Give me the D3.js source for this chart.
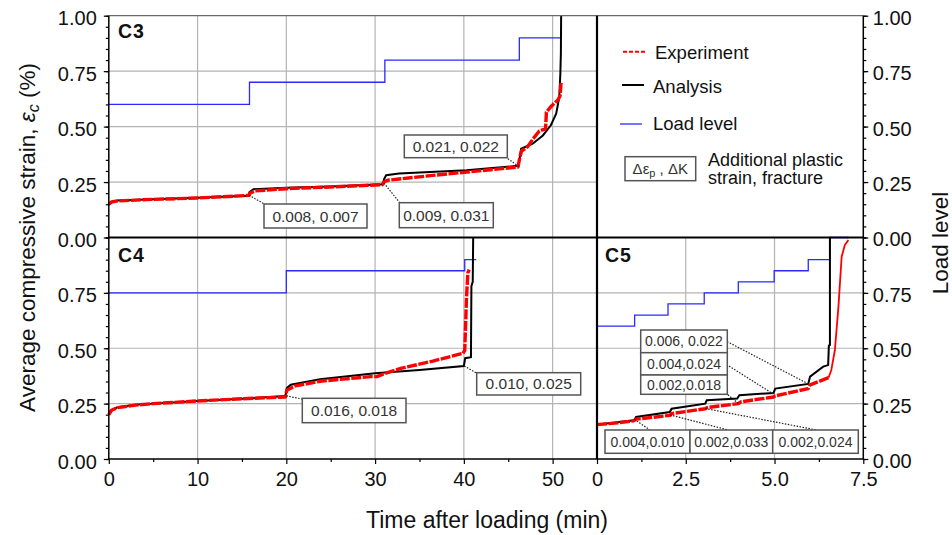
<!DOCTYPE html>
<html><head><meta charset="utf-8">
<script src="https://cdn.jsdelivr.net/npm/d3@7/dist/d3.min.js"></script>
<style>
body{margin:0;background:#fff}
svg{display:block}
text{font-family:"Liberation Sans",Arial,sans-serif}
</style>
</head><body>
<svg id="chart" width="952" height="535"></svg>
<script>
// ---------------- DATA ----------------
// C3 (top panel)
const c3ExpTime   = [0,0.3,1,5,10,15.8,15.9,16.5,20,25,30.8,31.0,31.4,36.5,40.3,46.1,46.3,46.5,47.2,47.8,48.5,49.2,49.3,49.8,50.6,50.85,50.95];
const c3ExpStrain = [0.15,0.16,0.165,0.172,0.178,0.19,0.2,0.21,0.22,0.228,0.238,0.25,0.258,0.28,0.295,0.318,0.36,0.39,0.41,0.445,0.48,0.49,0.565,0.59,0.62,0.64,0.70];
const c3AnaTime   = [0,0.3,1,5,10,15.75,15.85,16.3,20,25,30.9,31.0,31.25,32.7,40.3,46.15,46.3,46.45,47.75,48.9,49.8,50.4,50.75,50.87,50.93,50.96];
const c3AnaStrain = [0.148,0.16,0.167,0.173,0.179,0.188,0.205,0.218,0.224,0.23,0.24,0.262,0.281,0.288,0.303,0.323,0.36,0.40,0.423,0.46,0.506,0.558,0.633,0.738,0.83,1.0];
const c3LoadTime  = [0,15.85,31.1,46.25,50.95];
const c3LoadLevel = [0.6,0.7,0.8,0.9,0.9];
const c3NoteText  = ["0.008, 0.007","0.009, 0.031","0.021, 0.022"];
const c3NoteTime  = [15.8,31.0,46.2];
const c3NoteStrain= [0.19,0.245,0.32];

// C4 (bottom-left panel)
const c4ExpTime   = [0,0.3,1,3,5,10,15,19.9,20.05,21,24,29.5,30.2,31,33,36.5,39.9,40.1,40.3,40.45,40.6];
const c4ExpStrain = [0.2,0.22,0.232,0.243,0.25,0.262,0.272,0.28,0.31,0.33,0.352,0.372,0.372,0.385,0.41,0.442,0.477,0.49,0.73,0.84,0.855];
const c4AnaTime   = [0,0.3,1,3,5,10,15,19.9,20.05,20.5,23.8,30,35,40,40.15,40.8,40.85,41.0,41.05];
const c4AnaStrain = [0.2,0.22,0.234,0.245,0.25,0.262,0.272,0.284,0.32,0.335,0.36,0.387,0.402,0.42,0.455,0.46,0.78,0.8,1.0];
const c4LoadTime  = [0,20,40.1,41.4];
const c4LoadLevel = [0.75,0.85,0.9,0.9];
const c4NoteText  = ["0.016, 0.018","0.010, 0.025"];
const c4NoteTime  = [20.0,40.05];
const c4NoteStrain= [0.285,0.42];

// C5 (bottom-right panel)
const c5ExpTime   = [0,0.5,1.03,1.1,2.06,2.1,3.05,3.1,3.98,4.05,4.97,5.02,5.95,6.0,6.52];
const c5ExpStrain = [0.155,0.162,0.172,0.18,0.197,0.205,0.227,0.232,0.25,0.258,0.28,0.285,0.318,0.335,0.367];
const c5ExpTailTime   = [6.52,6.6,6.7,6.8,6.89,6.98,7.08];
const c5ExpTailStrain = [0.367,0.402,0.492,0.688,0.913,0.966,0.989];
const c5AnaTime   = [0,0.5,1.05,1.1,2.05,2.1,3.05,3.09,3.95,4.01,4.97,5.02,5.95,6.0,6.37,6.51,6.53,6.56,6.56];
const c5AnaStrain = [0.155,0.165,0.175,0.19,0.212,0.227,0.25,0.265,0.273,0.288,0.298,0.318,0.339,0.372,0.417,0.424,0.512,0.515,1.0];
const c5LoadTime  = [0,1.06,2.0,3.02,3.98,4.99,5.95,6.56,7.1];
const c5LoadLevel = [0.6,0.65,0.7,0.75,0.8,0.85,0.9,1.0,1.0];
const c5NoteText  = ["0.006, 0.022","0.004,0.024","0.002,0.018","0.004,0.010","0.002,0.033","0.002,0.024"];
const c5NoteTime  = [5.95,4.97,3.98,1.05,2.06,3.05];
const c5NoteStrain= [0.339,0.293,0.251,0.179,0.199,0.228];

const strainTicks = [0,0.25,0.5,0.75,1];
const mainTimeTicks = [0,10,20,30,40,50];
const c5TimeTicks = [0,2.5,5.0,7.5];
const legendLabels = ["Experiment","Analysis","Load level"];

// ---------------- LAYOUT ----------------
const svg = d3.select("#chart");
const X0 = 108.8, XM = 597, XR = 863.3, YT = 15.7, YM = 237.5, YB = 459;
const xMain = d3.scaleLinear().domain([0,55]).range([X0,XM]);
const xC5   = d3.scaleLinear().domain([0,7.5]).range([XM,XR]);
const yTop  = d3.scaleLinear().domain([0,1]).range([YM,YT]);
const yBot  = d3.scaleLinear().domain([0,1]).range([YB,YM]);

const RED = "#ff0000", BLUE = "#2a2aff", GRID = "#b4b4b4";
const zip = (a,b) => a.map((v,i)=>[v,b[i]]);

const panels = [
  {x:xMain, y:yTop, xt:mainTimeTicks, exp:[zip(c3ExpTime,c3ExpStrain)], ana:zip(c3AnaTime,c3AnaStrain), load:zip(c3LoadTime,c3LoadLevel)},
  {x:xMain, y:yBot, xt:mainTimeTicks, exp:[zip(c4ExpTime,c4ExpStrain)], ana:zip(c4AnaTime,c4AnaStrain), load:zip(c4LoadTime,c4LoadLevel)},
  {x:xC5,   y:yBot, xt:c5TimeTicks,   exp:[zip(c5ExpTime,c5ExpStrain), zip(c5ExpTailTime,c5ExpTailStrain)], ana:zip(c5AnaTime,c5AnaStrain), load:zip(c5LoadTime,c5LoadLevel)}
];

// gridlines
panels.forEach(p => {
  const g = svg.append("g").attr("stroke",GRID).attr("stroke-width",1.2);
  const [x0,x1] = p.x.range(), [y0,y1] = p.y.range();
  p.xt.filter(t => p.x(t) > x0+1 && p.x(t) < x1-1).forEach(t =>
    g.append("line").attr("x1",p.x(t)).attr("x2",p.x(t)).attr("y1",y0).attr("y2",y1));
  [0.25,0.5,0.75].forEach(v =>
    g.append("line").attr("x1",x0).attr("x2",x1).attr("y1",p.y(v)).attr("y2",p.y(v)));
});

// series
panels.forEach((p,i) => {
  const line = d3.line().x(d=>p.x(d[0])).y(d=>p.y(d[1]));
  const step = d3.line().x(d=>p.x(d[0])).y(d=>p.y(d[1])).curve(d3.curveStepAfter);
  svg.append("path").attr("d",step(p.load)).attr("fill","none").attr("stroke",BLUE).attr("stroke-width",1.3);
  svg.append("path").attr("d",line(p.ana)).attr("fill","none").attr("stroke","#000").attr("stroke-width",2);
  p.exp.forEach((s,k) => {
    svg.append("path").attr("d",line(s)).attr("fill","none").attr("stroke",RED)
      .attr("stroke-width", k===0 ? 3.4 : 1.8)
      .attr("stroke-dasharray", k===0 ? "10,1.5" : null)
      .attr("stroke-linejoin","round");
  });
});

// annotation boxes
function note(text, px, py, box, leaderEnd, fs){
  svg.append("line").attr("x1",px).attr("y1",py).attr("x2",leaderEnd[0]).attr("y2",leaderEnd[1])
    .attr("stroke","#222").attr("stroke-width",1.2).attr("stroke-dasharray","1.5,1.5");
  svg.append("rect").attr("x",box[0]).attr("y",box[1]).attr("width",box[2]-box[0]).attr("height",box[3]-box[1])
    .attr("fill","#fff").attr("stroke","#555").attr("stroke-width",1.5);
  svg.append("text").attr("x",(box[0]+box[2])/2).attr("y",(box[1]+box[3])/2).attr("dy","0.36em")
    .attr("text-anchor","middle").attr("font-size",fs).attr("fill","#333").text(text);
}
const c3Boxes = [[264,204,367,228],[399.3,202.7,493.3,227.7],[404.3,135,507.3,157.7]];
const c3Ends  = [[266,205],[400,203],[507,158]];
c3NoteText.forEach((t,i)=> note(t, xMain(c3NoteTime[i]), yTop(c3NoteStrain[i]), c3Boxes[i], c3Ends[i], 15.5));
const c4Boxes = [[302.3,398.3,406,422.7],[476.7,372.7,580.7,395]];
const c4Ends  = [[302,399],[477,373.5]];
c4NoteText.forEach((t,i)=> note(t, xMain(c4NoteTime[i]), yBot(c4NoteStrain[i]), c4Boxes[i], c4Ends[i], 15.5));
const c5Boxes = [[640.7,330,727.3,352.7],[640.7,352.7,727.3,375],[640.7,375,727.3,394.3],
                 [605,430,690,453.3],[690,430,772.7,453.3],[772.7,430,858.3,453.3]];
const c5Ends  = [[727.3,341.7],[727.3,365],[727.3,394.3],[650,430],[728.3,430],[816.7,430]];
c5NoteText.forEach((t,i)=> note(t, xC5(c5NoteTime[i]), yBot(c5NoteStrain[i]), c5Boxes[i], c5Ends[i], 14));

// frame lines
svg.append("line").attr("x1",X0).attr("x2",XR).attr("y1",YT).attr("y2",YT).attr("stroke","#6a6a6a").attr("stroke-width",1.2);
[[X0,YT,X0,YB,1.5],[X0,YB,XR,YB,1.5],[XR,YT,XR,YB,1.5],[X0,YM,XR,YM,2.2],[XM,YT,XM,YB,2.2]].forEach(l =>
  svg.append("line").attr("x1",l[0]).attr("y1",l[1]).attr("x2",l[2]).attr("y2",l[3]).attr("stroke","#000").attr("stroke-width",l[4]));

// axes
const fmt2 = d3.format(".2f");
function styleAxis(g, fs){
  g.select(".domain").remove();
  g.selectAll(".tick line").attr("stroke","#000").attr("stroke-width",1.2);
  g.selectAll("text").attr("font-size",fs).attr("fill","#111").attr("font-family","'Liberation Sans',Arial,sans-serif");
}
function yAxes(scale, vals){
  const gl = svg.append("g").attr("transform",`translate(${X0},0)`)
    .call(d3.axisLeft(scale).tickValues(vals).tickFormat(fmt2).tickSize(5).tickPadding(7));
  styleAxis(gl,20); gl.selectAll("text").attr("dy","0.45em");
  svg.append("g").attr("transform",`translate(${X0},0)`)
    .call(d3.axisLeft(scale).tickValues(d3.range(0,1.001,0.05)).tickFormat("").tickSize(3)).call(g=>styleAxis(g,20));
  const gr = svg.append("g").attr("transform",`translate(${XR},0)`)
    .call(d3.axisRight(scale).tickValues(vals).tickFormat(fmt2).tickSize(5).tickPadding(4.5));
  styleAxis(gr,20); gr.selectAll("text").attr("dy","0.42em");
  svg.append("g").attr("transform",`translate(${XR},0)`)
    .call(d3.axisRight(scale).tickValues(d3.range(0,1.001,0.05)).tickFormat("").tickSize(3)).call(g=>styleAxis(g,20));
}
yAxes(yTop, strainTicks);
yAxes(yBot, strainTicks.slice(0,4));

const gx1 = svg.append("g").attr("transform",`translate(0,${YB})`)
  .call(d3.axisBottom(xMain).tickValues(mainTimeTicks).tickFormat(d3.format("d")).tickSize(5).tickPadding(8));
styleAxis(gx1,20);
svg.append("g").attr("transform",`translate(0,${YB})`)
  .call(d3.axisBottom(xMain).tickValues(d3.range(5,55,10)).tickFormat("").tickSize(3)).call(g=>styleAxis(g,20));
const gx2 = svg.append("g").attr("transform",`translate(0,${YB})`)
  .call(d3.axisBottom(xC5).tickValues(c5TimeTicks).tickFormat(d => d===0 ? "0" : d3.format(".1f")(d)).tickSize(5).tickPadding(8));
styleAxis(gx2,20);
svg.append("g").attr("transform",`translate(0,${YB})`)
  .call(d3.axisBottom(xC5).tickValues([1.25,3.75,6.25]).tickFormat("").tickSize(3)).call(g=>styleAxis(g,20));

// panel labels
[["C3",118,37.7],["C4",118,261.7],["C5",605,261.7]].forEach(l =>
  svg.append("text").attr("x",l[1]).attr("y",l[2]).attr("font-size",19.5).attr("font-weight","bold").attr("letter-spacing",0.8).attr("fill","#111").text(l[0]));

// axis titles
svg.append("text").attr("x",487).attr("y",528).attr("text-anchor","middle").attr("font-size",23).attr("fill","#111").text("Time after loading (min)");
const yl = svg.append("text").attr("transform","translate(35,237.5) rotate(-90)").attr("text-anchor","middle").attr("font-size",22.5).attr("fill","#111");
yl.append("tspan").text("Average compressive strain, ");
yl.append("tspan").attr("font-style","italic").text("ε");
yl.append("tspan").attr("font-style","italic").attr("font-size",16).attr("dy",4).text("c");
yl.append("tspan").attr("dy",-4).text(" (%)");
svg.append("text").attr("transform","translate(948,243) rotate(-90)").attr("text-anchor","middle").attr("font-size",22.5).attr("fill","#111").text("Load level");

// legend
const lg = svg.append("g");
const legY = [51.7,85,124], legTxtY = [58.5,92.5,129.5];
const legStyles = [{c:RED,w:2,da:"4,2",x1:623,x2:645,tx:655},{c:"#000",w:2,da:null,x1:622,x2:644,tx:653},{c:BLUE,w:1.3,da:null,x1:620,x2:642,tx:653}];
legendLabels.forEach((t,i)=>{
  const s = legStyles[i];
  lg.append("line").attr("x1",s.x1).attr("x2",s.x2).attr("y1",legY[i]).attr("y2",legY[i]).attr("stroke",s.c).attr("stroke-width",s.w).attr("stroke-dasharray",s.da);
  lg.append("text").attr("x",s.tx).attr("y",legTxtY[i]).attr("font-size",18.5).attr("fill","#111").text(t);
});
lg.append("rect").attr("x",625).attr("y",156.7).attr("width",70.7).attr("height",24).attr("fill","#fff").attr("stroke","#555").attr("stroke-width",1.5);
const lt = lg.append("text").attr("x",660.3).attr("y",174).attr("text-anchor","middle").attr("font-size",15).attr("fill","#333");
lt.append("tspan").text("Δε");
lt.append("tspan").attr("font-size",11).attr("dy",3).text("p");
lt.append("tspan").attr("dy",-3).text(" , ΔK");
const lp = lg.append("text").attr("x",708).attr("y",165.5).attr("font-size",18).attr("fill","#111");
lp.append("tspan").attr("x",708).text("Additional plastic");
lp.append("tspan").attr("x",708).attr("dy",18.5).text("strain, fracture");
</script>
</body></html>
